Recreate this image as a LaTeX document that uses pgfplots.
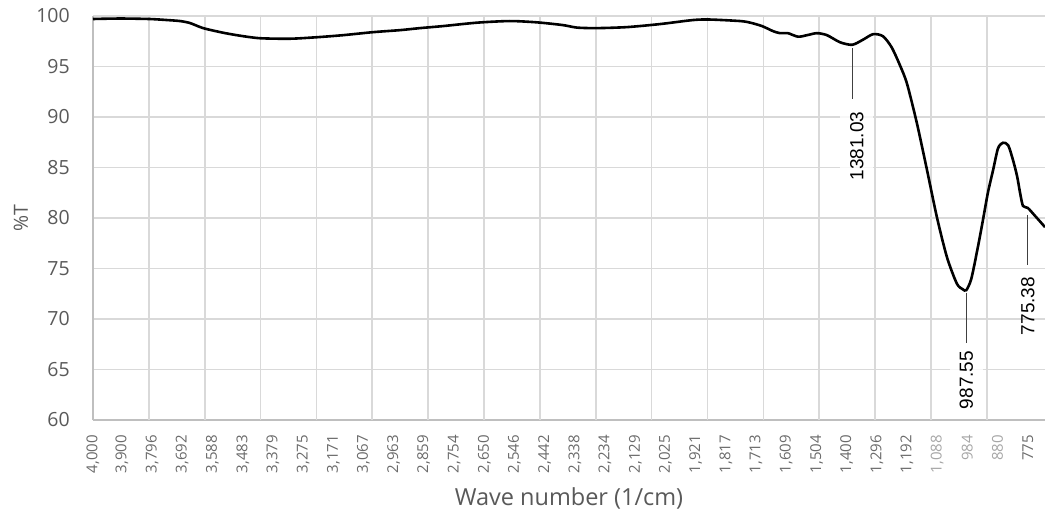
\documentclass[border=0pt]{standalone}
\usepackage{fontspec}
\setmainfont{Open Sans}
\newfontfamily\annotfont{Liberation Sans}
\usepackage{pgfplots}
\pgfplotsset{compat=1.18}

\definecolor{gridgray}{HTML}{D9D9D9}
\definecolor{axisgray}{HTML}{BFBFBF}
\definecolor{ticktext}{HTML}{595959}
\definecolor{xticktext}{HTML}{6A6A6A}
\definecolor{faint}{HTML}{A6A6A6}
\definecolor{leader}{HTML}{404040}

\begin{document}
\begin{tikzpicture}
\begin{axis}[
  name=ax,
  scale only axis,
  width=952bp, height=404bp,
  x dir=reverse,
  xmin=716, xmax=4000,
  ymin=60, ymax=100,
  axis x line*=bottom, axis y line*=left,
  axis line style={-, draw=axisgray, line width=1.6bp},
  major tick length=0pt,
  ytick={60,65,...,100},
  ymajorgrids,
  grid style={draw=gridgray, line width=1.6bp},
  /pgf/number format/assume math mode=true,
  yticklabel style={font=\fontsize{19.5bp}{20bp}\selectfont, color=ticktext,
    anchor=east, inner sep=0pt, xshift=-23bp},
  scaled x ticks=false,
  xtick={4000,3900,3796,3692,3588,3483,3379,3275,3171,3067,2963,2859,2754,2650,2546,2442,
         2338,2234,2129,2025,1921,1817,1713,1609,1504,1400,1296,1192,1088,984,880,775},
  xticklabels={{4,000},{3,900},{3,796},{3,692},{3,588},{3,483},{3,379},{3,275},{3,171},
    {3,067},{2,963},{2,859},{2,754},{2,650},{2,546},{2,442},{2,338},{2,234},{2,129},
    {2,025},{1,921},{1,817},{1,713},{1,609},{1,504},{1,400},{1,296},{1,192},
    {\textcolor{faint}{1,088}},{\textcolor{faint}{984}},{\textcolor{faint}{880}},{775}},
  xticklabel style={font=\fontsize{15bp}{16bp}\selectfont, color=xticktext,
    rotate=90, anchor=east, inner sep=0pt, xshift=-15bp},
  extra x ticks={3807.3,3614.6,3421.9,3229.2,3036.5,2843.8,2651.1,2458.4,2265.7,2073,
                 1880.3,1687.6,1494.9,1302.2,1109.5,916.8},
  extra x tick labels={},
  extra x tick style={grid=major},
  xlabel={Wave number (1/cm)},
  ylabel={\%T},
  every axis x label/.style={at={(axis description cs:0.5,0)}, anchor=base,
    yshift=-85bp, font=\fontsize{23.5bp}{24bp}\selectfont, color=ticktext},
  every axis y label/.style={at={(axis description cs:-0.0756,0.5)}, anchor=center,
    rotate=90, font=\fontsize{19.5bp}{20bp}\selectfont, color=ticktext},
]
% transmittance spectrum
\addplot[black, line width=2.6bp, smooth, tension=0.45] coordinates {
  (4000,99.70) (3976,99.72) (3900,99.75) (3803,99.70) (3745,99.60) (3700,99.50)
  (3665,99.30) (3620,98.80) (3552,98.35) (3493,98.05) (3424,97.80) (3320,97.75)
  (3227,97.90) (3138,98.10) (3034,98.40) (2941,98.60) (2872,98.80) (2793,99.00)
  (2675,99.34) (2562,99.50) (2468,99.37) (2379,99.10) (2330,98.85) (2262,98.80)
  (2158,98.90) (2044,99.20) (1930,99.60) (1872,99.65) (1768,99.50) (1734,99.35)
  (1692,99.00) (1654,98.50) (1630,98.30) (1603,98.30) (1568,97.95) (1537,98.10)
  (1503,98.30) (1468,98.10) (1423,97.40) (1381.03,97.15) (1344,97.65) (1309,98.20)
  (1275,98.00) (1245,96.90) (1216,95.10) (1192,93.30) (1158,89.40) (1123,84.75)
  (1089,80.10) (1054,76.10) (1020,73.50) (1000,72.95) (987.55,72.85) (970,74.00)
  (947,77.20) (930,79.80) (913,82.50) (895,84.75) (878,86.90) (861,87.45)
  (843,87.20) (826,85.70) (812,84.10) (802,82.50) (792,81.20) (775.38,81.00)
  (750,80.20) (716,79.10)
};
% peak annotations
\draw[leader, line width=1.3bp] (axis cs:1381.03,96.8) -- (axis cs:1381.03,91.8);
\node[rotate=90, anchor=center, fill=white, fill opacity=0.8, text opacity=1,
  inner xsep=4bp, inner ysep=10bp, text depth=0pt,
  font=\annotfont\fontsize{19bp}{20bp}\selectfont]
  at (axis cs:1365,87.13) {1381.03};
\draw[leader, line width=1.3bp] (axis cs:987.55,72.6) -- (axis cs:987.55,67.6);
\node[rotate=90, anchor=center, fill=white, fill opacity=0.8, text opacity=1,
  inner xsep=4bp, inner ysep=10bp, text depth=0pt,
  font=\annotfont\fontsize{19bp}{20bp}\selectfont]
  at (axis cs:987.55,63.96) {987.55};
\draw[leader, line width=1.3bp] (axis cs:775.38,80.3) -- (axis cs:775.38,75.35);
\node[rotate=90, anchor=center, text depth=0pt, inner sep=2bp,
  font=\annotfont\fontsize{19bp}{20bp}\selectfont]
  at (axis cs:775.38,71.29) {775.38};
\end{axis}
\pgfresetboundingbox
\useasboundingbox ([shift={(-93bp,-95bp)}]ax.south west)
  rectangle ([shift={(0bp,16bp)}]ax.north east);
\end{tikzpicture}
\end{document}
